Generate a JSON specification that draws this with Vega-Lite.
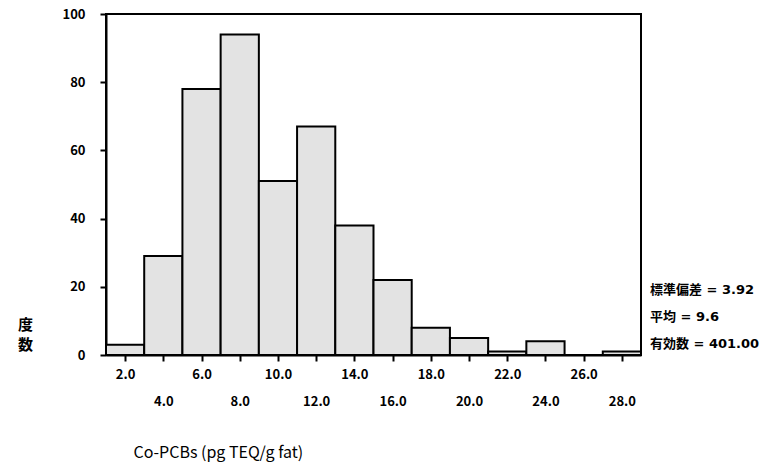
{
  "$schema": "https://vega.github.io/schema/vega-lite/v6.json",
  "width": 535,
  "height": 341,
  "autosize": {"type": "none"},
  "padding": {"left": 106, "top": 14, "right": 124, "bottom": 112},
  "background": "white",
  "config": {
    "view": {"stroke": "black", "strokeWidth": 2},
    "font": "Noto Sans CJK JP"
  },
  "layer": [
    {
      "data": {
        "values": [
          {"bin_start": 1, "bin_end": 3, "count": 3},
          {"bin_start": 3, "bin_end": 5, "count": 29},
          {"bin_start": 5, "bin_end": 7, "count": 78},
          {"bin_start": 7, "bin_end": 9, "count": 94},
          {"bin_start": 9, "bin_end": 11, "count": 51},
          {"bin_start": 11, "bin_end": 13, "count": 67},
          {"bin_start": 13, "bin_end": 15, "count": 38},
          {"bin_start": 15, "bin_end": 17, "count": 22},
          {"bin_start": 17, "bin_end": 19, "count": 8},
          {"bin_start": 19, "bin_end": 21, "count": 5},
          {"bin_start": 21, "bin_end": 23, "count": 1},
          {"bin_start": 23, "bin_end": 25, "count": 4},
          {"bin_start": 25, "bin_end": 27, "count": 0},
          {"bin_start": 27, "bin_end": 29, "count": 1}
        ]
      },
      "mark": {"type": "rect", "fill": "#e3e3e3", "stroke": "black", "strokeWidth": 2},
      "encoding": {
        "x": {
          "field": "bin_start", "type": "quantitative",
          "scale": {"domain": [1, 29], "nice": false, "zero": false},
          "axis": {
            "values": [2, 4, 6, 8, 10, 12, 14, 16, 18, 20, 22, 24, 26, 28],
            "grid": false,
            "domainColor": "black", "domainWidth": 2,
            "tickColor": "black", "tickWidth": 2, "tickSize": 6,
            "labelExpr": "datum.value % 4 == 0 ? ['', format(datum.value, '.1f')] : format(datum.value, '.1f')",
            "labelBaseline": "top",
            "labelLineHeight": 27,
            "labelPadding": 7,
            "labelOverlap": false,
            "labelFlush": false,
            "labelFont": "Noto Sans CJK JP",
            "labelFontWeight": "bold",
            "labelFontSize": 13,
            "labelColor": "black",
            "title": "Co-PCBs (pg TEQ/g fat)",
            "titleFont": "Noto Sans CJK JP",
            "titleFontWeight": "normal",
            "titleFontSize": 16,
            "titleColor": "black",
            "titleAlign": "left",
            "titleAnchor": "start",
            "titleX": 27,
            "titleY": 97,
            "titleBaseline": "middle"
          }
        },
        "x2": {"field": "bin_end"},
        "y": {
          "field": "count", "type": "quantitative",
          "scale": {"domain": [0, 100], "nice": false},
          "axis": {
            "values": [0, 20, 40, 60, 80, 100],
            "grid": false,
            "domainColor": "black", "domainWidth": 2,
            "tickColor": "black", "tickWidth": 2, "tickSize": 6,
            "labelPadding": 15,
            "labelFont": "Noto Sans CJK JP",
            "labelFontWeight": "bold",
            "labelFontSize": 13,
            "labelColor": "black",
            "title": ["度", "数"],
            "titleAngle": 0,
            "titleFont": "Noto Sans CJK JP",
            "titleFontWeight": "bold",
            "titleFontSize": 15,
            "titleLineHeight": 20,
            "titleColor": "black",
            "titleAlign": "center",
            "titleBaseline": "top",
            "titleX": -81,
            "titleY": 303
          }
        },
        "y2": {"datum": 0}
      }
    },
    {
      "data": {
        "values": [
          {"label": "標準偏差 = 3.92", "pos": 19.2},
          {"label": "平均 = 9.6", "pos": 11.2},
          {"label": "有効数 = 401.00", "pos": 3.2}
        ]
      },
      "mark": {"type": "text", "align": "left", "baseline": "middle", "dx": 9, "font": "DejaVu Sans, Noto Sans CJK JP", "fontWeight": "bold", "fontSize": 13, "color": "black", "clip": false},
      "encoding": {
        "x": {"datum": 29, "type": "quantitative"},
        "y": {"field": "pos", "type": "quantitative"},
        "text": {"field": "label"}
      }
    }
  ]
}
